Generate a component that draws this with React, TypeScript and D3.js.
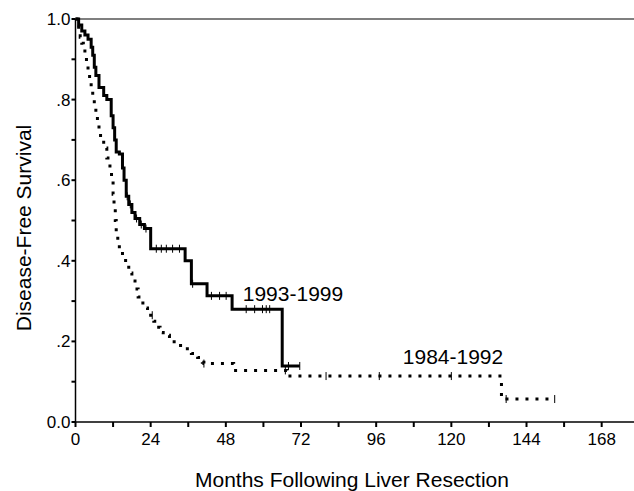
import React, { useEffect, useRef } from 'react';
import * as d3 from 'd3';

// Kaplan-Meier steps: [month, survival]
const recentSteps: [number, number][] = [
  [0, 1.0], [1, 0.985], [2, 0.97], [3, 0.96], [4, 0.95], [5, 0.93], [5.5, 0.91], [6, 0.88],
  [6.5, 0.86], [7.5, 0.83], [9, 0.81], [10, 0.8], [11.4, 0.76], [12, 0.73], [12.5, 0.7],
  [13, 0.67], [14, 0.665], [15, 0.63], [15.5, 0.6], [16.2, 0.56], [17, 0.54], [18, 0.52],
  [19, 0.505], [20.5, 0.49], [22, 0.48], [24, 0.43], [35, 0.4], [37, 0.343], [42, 0.313],
  [50, 0.28], [66, 0.139], [71.6, 0.139],
];
const recentCensored = [16.5, 17.5, 19.5, 21, 22.5, 25.8, 27.4, 29, 31, 33.2, 37.4, 43.4, 46, 48.1,
  54.5, 57.2, 59.7, 60.9, 62, 68, 71.6];

const earlySteps: [number, number][] = [
  [0, 1.0], [0.5, 0.985], [1, 0.97], [1.5, 0.955], [2, 0.94], [2.5, 0.925], [3, 0.91],
  [3.5, 0.89], [4, 0.87], [4.5, 0.85], [5, 0.83], [5.5, 0.81], [6, 0.79], [6.5, 0.77],
  [7, 0.745], [7.5, 0.72], [8, 0.7], [9, 0.68], [10, 0.655], [11, 0.625], [11.5, 0.6],
  [12, 0.565], [12.3, 0.53], [12.7, 0.5], [13, 0.47], [13.5, 0.45], [14, 0.43], [15, 0.41],
  [16, 0.39], [17, 0.37], [18, 0.35], [19, 0.33], [20, 0.31], [21, 0.295], [22, 0.283],
  [23, 0.275], [24, 0.265], [25, 0.25], [26, 0.235], [27, 0.222], [28, 0.215], [30, 0.208],
  [31.5, 0.195], [33, 0.19], [35, 0.182], [37, 0.17], [39, 0.16], [40.5, 0.148], [41, 0.145],
  [50.5, 0.128], [67.5, 0.114], [136, 0.057], [153, 0.057],
];
const earlyCensored = [24.5, 41, 67, 80, 97, 120, 137.5, 153];

const xTicks = [0, 24, 48, 72, 96, 120, 144, 168];
const yTicks = [0, 0.2, 0.4, 0.6, 0.8, 1.0];
const yTickLabels = ['0.0', '.2', '.4', '.6', '.8', '1.0'];

const seriesLabels = [
  { text: '1993-1999', month: 53.4, value: 0.3 },
  { text: '1984-1992', month: 104.5, value: 0.144 },
];

const font = 'Liberation Sans, Arial, sans-serif';

function stepValue(steps: [number, number][], t: number) {
  let v = steps[0][1];
  for (const [m, s] of steps) {
    if (m <= t) v = s;
  }
  return v;
}

export default function App() {
  const ref = useRef<SVGSVGElement>(null);

  useEffect(() => {
    const width = 634;
    const height = 491;
    const svg = d3.select(ref.current);
    svg.selectAll('*').remove();

    const x = d3.scaleLinear().domain([0, 178]).range([75.5, 633]);
    const y = d3.scaleLinear().domain([0, 1]).range([422, 19]);

    // top reference line at 1.0
    svg.append('line')
      .attr('x1', x(0)).attr('x2', width)
      .attr('y1', y(1)).attr('y2', y(1))
      .attr('stroke', '#555').attr('stroke-width', 1.5);

    // x axis
    const xAxis = svg.append('g').attr('transform', `translate(0,${y(0)})`);
    xAxis.append('line')
      .attr('x1', x(0)).attr('x2', width)
      .attr('stroke', '#000').attr('stroke-width', 1.5);
    xAxis.selectAll('line.tick')
      .data(d3.range(0, 169, 12))
      .join('line')
      .attr('class', 'tick')
      .attr('x1', d => x(d)).attr('x2', d => x(d))
      .attr('y1', 0).attr('y2', 5)
      .attr('stroke', '#000').attr('stroke-width', 2);
    xAxis.selectAll('text')
      .data(xTicks)
      .join('text')
      .attr('x', d => x(d))
      .attr('y', 23)
      .attr('text-anchor', 'middle')
      .attr('font-family', font)
      .attr('font-size', 17)
      .text(d => d);

    // y axis
    const yAxis = svg.append('g').attr('transform', `translate(${x(0)},0)`);
    yAxis.append('line')
      .attr('y1', y(0)).attr('y2', y(1))
      .attr('stroke', '#000').attr('stroke-width', 1.5);
    yAxis.selectAll('line.tick')
      .data(d3.range(0, 11).map(d => d / 10))
      .join('line')
      .attr('class', 'tick')
      .attr('x1', -4).attr('x2', 0)
      .attr('y1', d => y(d)).attr('y2', d => y(d))
      .attr('stroke', '#000').attr('stroke-width', 2);
    yAxis.selectAll('text')
      .data(yTicks)
      .join('text')
      .attr('x', -5)
      .attr('y', d => y(d) + 6)
      .attr('text-anchor', 'end')
      .attr('font-family', font)
      .attr('font-size', 17)
      .text((d, i) => yTickLabels[i]);

    // axis titles
    svg.append('text')
      .attr('x', 352).attr('y', 487)
      .attr('text-anchor', 'middle')
      .attr('font-family', font).attr('font-size', 21)
      .text('Months Following Liver Resection');
    svg.append('text')
      .attr('transform', `translate(31,228) rotate(-90)`)
      .attr('text-anchor', 'middle')
      .attr('font-family', font).attr('font-size', 21)
      .text('Disease-Free Survival');

    const line = d3.line<[number, number]>()
      .x(d => x(d[0]))
      .y(d => y(d[1]))
      .curve(d3.curveStepAfter);

    svg.append('path')
      .datum(earlySteps)
      .attr('d', line)
      .attr('fill', 'none')
      .attr('stroke', '#000')
      .attr('stroke-width', 3)
      .attr('stroke-dasharray', '3,7');

    svg.append('path')
      .datum(recentSteps)
      .attr('d', line)
      .attr('fill', 'none')
      .attr('stroke', '#000')
      .attr('stroke-width', 3);

    // censor marks
    const marks = [
      ...recentCensored.map(t => [t, stepValue(recentSteps, t)]),
      ...earlyCensored.map(t => [t, stepValue(earlySteps, t)]),
    ];
    svg.append('g').selectAll('line')
      .data(marks)
      .join('line')
      .attr('x1', d => x(d[0])).attr('x2', d => x(d[0]))
      .attr('y1', d => y(d[1]) - 4).attr('y2', d => y(d[1]) + 4)
      .attr('stroke', '#000').attr('stroke-width', 1);

    svg.append('g').selectAll('text')
      .data(seriesLabels)
      .join('text')
      .attr('x', d => x(d.month))
      .attr('y', d => y(d.value))
      .attr('font-family', font)
      .attr('font-size', 21)
      .text(d => d.text);

    svg.attr('width', width).attr('height', height);
  }, []);

  return (
    <svg ref={ref} width={634} height={491}
      style={{ position: 'absolute', left: 0, top: 0, background: '#fff' }} />
  );
}
